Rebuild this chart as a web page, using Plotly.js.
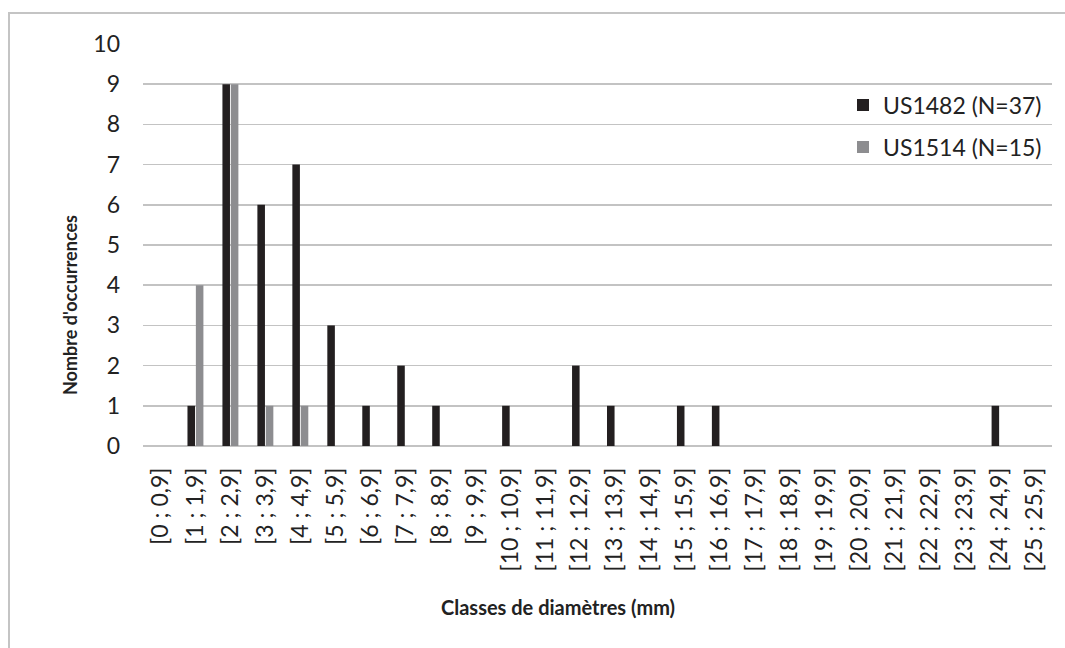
<!DOCTYPE html>
<html>
<head>
<meta charset="utf-8">
<script src="https://cdn.plot.ly/plotly-3.0.1.min.js"></script>
<style>
html,body{margin:0;padding:0;background:#fff;}
#chart{width:1065px;height:648px;}
</style>
</head>
<body>
<div id="chart"></div>
<script>
var categories = ["[0 ; 0,9]","[1 ; 1,9]","[2 ; 2,9]","[3 ; 3,9]","[4 ; 4,9]","[5 ; 5,9]","[6 ; 6,9]","[7 ; 7,9]","[8 ; 8,9]","[9 ; 9,9]","[10 ; 10,9]","[11 ; 11,9]","[12 ; 12,9]","[13 ; 13,9]","[14 ; 14,9]","[15 ; 15,9]","[16 ; 16,9]","[17 ; 17,9]","[18 ; 18,9]","[19 ; 19,9]","[20 ; 20,9]","[21 ; 21,9]","[22 ; 22,9]","[23 ; 23,9]","[24 ; 24,9]","[25 ; 25,9]"];
var us1482 = [0,1,9,6,7,3,1,2,1,0,1,0,2,1,0,1,1,0,0,0,0,0,0,0,1,0];
var us1514 = [0,4,9,1,1,0,0,0,0,0,0,0,0,0,0,0,0,0,0,0,0,0,0,0,0,0];
var seriesNames = ["US1482 (N=37)","US1514 (N=15)"];
var yTicks = [0,1,2,3,4,5,6,7,8,9,10];

var W = 1065, H = 648;
var mL = 143, mR = 13, mT = 44, mB = 202;
var pw = W - mL - mR, ph = H - mT - mB;
function px(x){ return (x - mL) / pw; }
function py(y){ return (H - mB - y) / ph; }

var font = "Lato, 'Open Sans', sans-serif";
var textColor = "#222222";

var traces = [
  {type:"bar", x:categories, y:us1482, name:seriesNames[0], marker:{color:"#231f20"}, legend:"legend"},
  {type:"bar", x:categories, y:us1514, name:seriesNames[1], marker:{color:"#8d8d90"}, legend:"legend2"}
];

var layout = {
  width: W, height: H,
  margin: {l:mL, r:mR, t:mT, b:mB, pad:0},
  paper_bgcolor:"#fff", plot_bgcolor:"#fff",
  barmode:"group", bargap:0.52, bargroupgap:0.1,
  font:{family:font, color:textColor, size:23},
  xaxis:{
    type:"category", tickangle:-90, ticks:"", showgrid:false, showline:false, zeroline:false,
    tickfont:{family:font, size:23, color:textColor}, ticklabelstandoff:16, fixedrange:true
  },
  yaxis:{
    range:[0,10], tickvals:yTicks, ticktext:yTicks.map(String), ticks:"",
    showgrid:true, gridcolor:"#c3c3c3", gridwidth:1.5, zeroline:true, zerolinecolor:"#c3c3c3", zerolinewidth:1.5,
    showline:false, tickfont:{family:font, size:23, color:textColor}, ticklabelstandoff:22, fixedrange:true
  },
  showlegend:true,
  legend:{x:px(843), y:py(105), xanchor:"left", yanchor:"middle", bgcolor:"rgba(255,255,255,0)", font:{family:font, size:23, color:textColor}, itemwidth:30},
  legend2:{x:px(843), y:py(147), xanchor:"left", yanchor:"middle", bgcolor:"rgba(255,255,255,0)", font:{family:font, size:23, color:textColor}, itemwidth:30},
  annotations:[
    {text:"<b>Nombre d'occurrences</b>", xref:"paper", yref:"paper", x:px(70), y:py(305), textangle:-90, showarrow:false, xanchor:"center", yanchor:"middle", font:{family:font, size:18, color:textColor}},
    {text:"<b>Classes de diamètres (mm)</b>", xref:"paper", yref:"paper", x:px(558), y:py(607), showarrow:false, xanchor:"center", yanchor:"middle", font:{family:font, size:20, color:textColor}}
  ],
  shapes:[
    {type:"line", xref:"paper", yref:"paper", x0:px(9), x1:px(9), y0:py(12), y1:py(660), line:{color:"#c4c4c4", width:2}},
    {type:"line", xref:"paper", yref:"paper", x0:px(8), x1:px(1080), y0:py(13), y1:py(13), line:{color:"#c4c4c4", width:2}}
  ]
};

Plotly.newPlot("chart", traces, layout, {displayModeBar:false, staticPlot:true});
</script>
</body>
</html>
